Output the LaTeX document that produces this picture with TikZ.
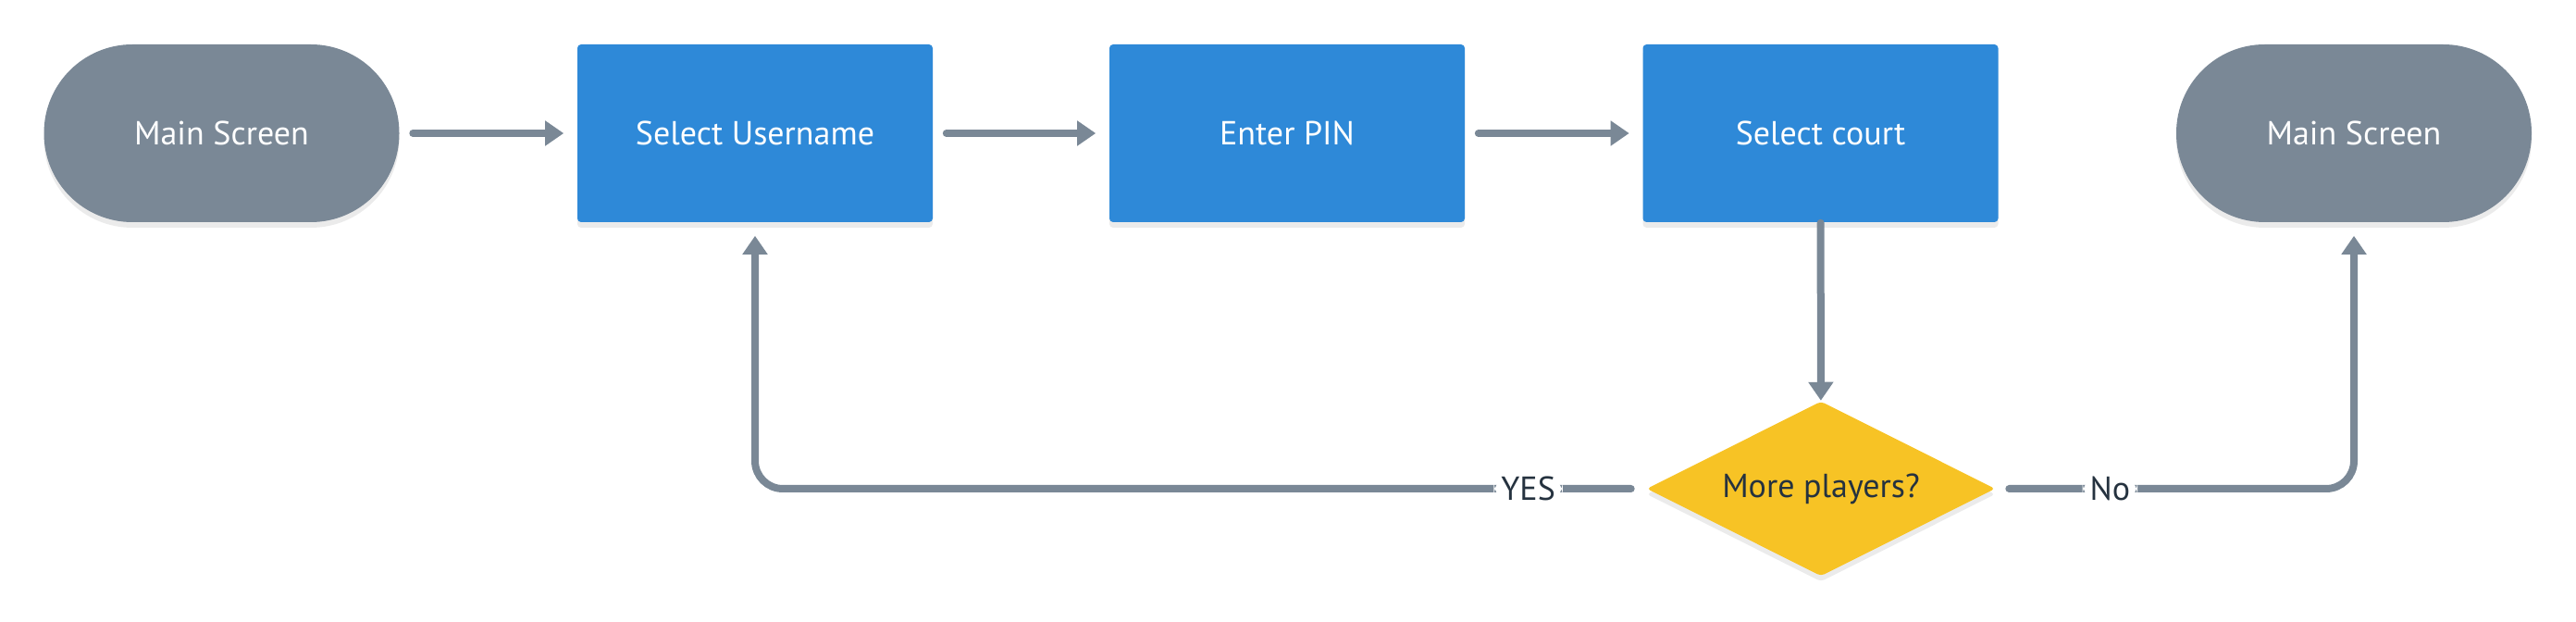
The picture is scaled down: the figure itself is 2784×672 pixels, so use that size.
\documentclass[tikz,border=0pt]{standalone}
\usepackage{fontspec}
\setmainfont{PT Sans}
\usetikzlibrary{arrows.meta,shapes.geometric,shadows}
\definecolor{slate}{HTML}{7A8896}
\definecolor{boxblue}{HTML}{2E89D8}
\definecolor{amber}{HTML}{F7C325}
\definecolor{ink}{HTML}{25323F}
\tikzset{
  soft/.style={drop shadow={shadow xshift=0pt, shadow yshift=-1.5pt, opacity=0.08, fill=black}},
  terminal/.style={soft, fill=slate, text=white, rounded corners=23.9pt, minimum width=96pt, minimum height=48pt, inner sep=0pt},
  screen/.style={soft, fill=boxblue, text=white, rounded corners=1pt, minimum width=96pt, minimum height=48pt, inner sep=0pt},
  choice/.style={soft, diamond, fill=amber, text=ink, rounded corners=1pt, minimum width=94.25pt, minimum height=47.25pt, inner sep=0pt},
  flow/.style={draw=slate, line width=2pt, line cap=round, -{Triangle[length=5pt,width=6.5pt]}},
  tag/.style={fill=white, text=ink, inner sep=2pt}
}
\begin{document}
\begin{tikzpicture}[x=0.25pt, y=-0.25pt, font=\fontsize{9}{11}\selectfont]
  \useasboundingbox (0,0) rectangle (2784,672);
  \node[terminal] (start) at (239.5,144) {Main Screen};
  \node[screen] (user) at (816,144) {Select Username};
  \node[screen] (pin) at (1391,144) {Enter PIN};
  \node[screen] (court) at (1967.5,144) {Select court};
  \node[terminal] (back) at (2544,144) {Main Screen};
  \node[choice] (more) at (1968,528) {\makebox[0pt]{More players?}};
  \draw[flow, shorten <=3.5pt, shorten >=3.5pt] (start) -- (user);
  \draw[flow, shorten <=3.5pt, shorten >=3.5pt] (user) -- (pin);
  \draw[flow, shorten <=3.5pt, shorten >=3.5pt] (pin) -- (court);
  \draw[flow] (court) -- (more);
  \draw[flow, rounded corners=7.5pt, shorten <=4pt, shorten >=3.5pt] (more.west) -| (user.south)
    node[tag, pos=0.066] {YES};
  \draw[flow, rounded corners=7.5pt, shorten <=3.5pt, shorten >=3.5pt] (more.east) -| (back.south)
    node[tag, pos=0.159] {No};
\end{tikzpicture}
\end{document}
